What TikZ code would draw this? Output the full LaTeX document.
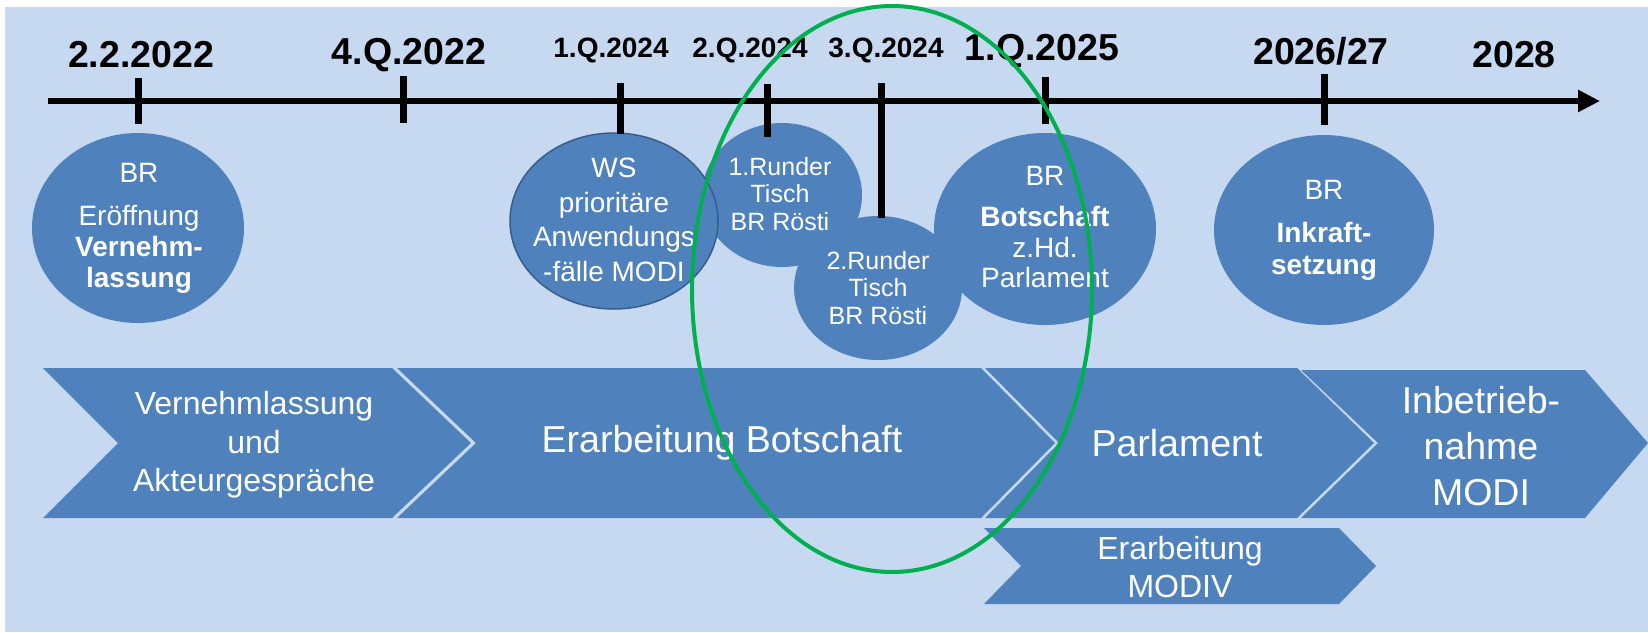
\documentclass[tikz,border=0pt]{standalone}
\usepackage{fontspec}
\setmainfont{Liberation Sans}
\usetikzlibrary{arrows.meta,shapes.geometric}
\definecolor{bgblue}{HTML}{C6D9F1}
\definecolor{boxblue}{HTML}{4F81BD}
\definecolor{edgeblue}{HTML}{385D8A}
\definecolor{ringgreen}{HTML}{00B050}
\newcommand\fsz[2]{\fontsize{#1}{#2}\selectfont}

\begin{document}
\begin{tikzpicture}[x=1pt,y=-1pt,
  bubble/.style={ellipse, fill=boxblue, inner sep=0pt},
  bubtext/.style={text=white, align=center, inner sep=0pt},
  phase/.style={fill=boxblue},
  phasetext/.style={text=white, align=center, inner sep=0pt},
  datebig/.style={font=\fsz{37.5}{40}\bfseries, inner sep=0pt},
  datesmall/.style={font=\fsz{28}{30}\bfseries, inner sep=0pt},
  tickline/.style={line width=7pt},
]
\useasboundingbox (0,0) rectangle (1648,632);
\fill[white] (0,0) rectangle (1648,632);
\fill[bgblue] (5,7) rectangle (1648,632);

% phases
\fill[boxblue] (43,368) -- (392,368) -- (471,443) -- (392,518) -- (43,518) -- (118,443) -- cycle;
\fill[boxblue] (397,368) -- (981,368) -- (1055,443) -- (981,518) -- (397,518) -- (476,443) -- cycle;
\fill[boxblue] (985,368) -- (1297,368) -- (1374,443) -- (1297,518) -- (985,518) -- (1059,443) -- cycle;
\fill[boxblue] (1301,370) -- (1585,370) -- (1648,443) -- (1585,518) -- (1301,518) -- (1378,443) -- cycle;
\fill[boxblue] (984,528) -- (1339,528) -- (1376,566) -- (1339,604) -- (984,604) -- (1021,566) -- cycle;

\node[phasetext, font=\fsz{32}{38.5}] (p1) at (254,445) {Vernehmlassung\\und\\Akteurgespräche};
\node[phasetext, font=\fsz{37.5}{40}] (p2) at (722,443) {Erarbeitung Botschaft};
\node[phasetext, font=\fsz{37.5}{40}] (p3) at (1177,443) {Parlament};
\node[phasetext, font=\fsz{37.5}{46}] (p4) at (1481,446) {Inbetrieb-\\nahme\\MODI};
\node[phasetext, font=\fsz{32}{38}] (p5) at (1180,567) {Erarbeitung\\MODIV};

% milestones
\node[bubble, minimum width=160, minimum height=144] (rt1) at (782,195) {};
\node[bubble, minimum width=168, minimum height=144] (rt2) at (878,288) {};
\node[bubble, draw=edgeblue, line width=1.5pt, minimum width=208, minimum height=176] (ws) at (614,221) {};
\node[bubble, minimum width=212, minimum height=190] (vl) at (138,228) {};
\node[bubble, minimum width=222, minimum height=192] (bo) at (1045,229) {};
\node[bubble, minimum width=220, minimum height=190] (ik) at (1324,230) {};

\node[bubtext, font=\fsz{28}{31}] (vlt) at (139,228) {BR\\[12pt]Eröffnung\\\textbf{Vernehm-}\\\textbf{lassung}};
\node[bubtext, font=\fsz{28}{34.5}] (wst) at (614,220) {WS\\prioritäre\\Anwendungs\\-fälle MODI};
\node[bubtext, font=\fsz{25}{27.5}] (rt1t) at (780,194) {1.Runder\\Tisch\\BR Rösti};
\node[bubtext, font=\fsz{25}{27.5}] (rt2t) at (878,288) {2.Runder\\Tisch\\BR Rösti};
\node[bubtext, font=\fsz{28}{30.5}] (bot) at (1045,227) {BR\\[11pt]\textbf{Botschaft}\\z.Hd.\\Parlament};
\node[bubtext, font=\fsz{28}{32}] (ikt) at (1324,230) {BR\\[11pt]\textbf{Inkraft-}\\\textbf{setzung}};

% time axis
\coordinate (ax0) at (48,101);
\coordinate (ax1) at (1600,101);
\draw[line width=6.5pt, -{Triangle[length=22pt,width=21pt]}] (ax0) -- (ax1);

\coordinate (k1) at (138,78);  \coordinate (k1e) at (138,124);
\coordinate (k2) at (403,76);  \coordinate (k2e) at (403,123);
\coordinate (k3) at (620,83);  \coordinate (k3e) at (620,134);
\coordinate (k4) at (767,84);  \coordinate (k4e) at (767,137);
\coordinate (k5) at (881,83);  \coordinate (k5e) at (881,218);
\coordinate (k6) at (1045,77); \coordinate (k6e) at (1045,124);
\coordinate (k7) at (1324,74); \coordinate (k7e) at (1324,125);
\draw[tickline] (k1) -- (k1e);
\draw[tickline] (k2) -- (k2e);
\draw[tickline] (k3) -- (k3e);
\draw[tickline] (k4) -- (k4e);
\draw[tickline] (k5) -- (k5e);
\draw[tickline] (k6) -- (k6e);
\draw[tickline] (k7) -- (k7e);

\node[datebig] (d1) at (141,55) {2.2.2022};
\node[datebig] (d2) at (409,55) {4.Q.2022};
\node[datesmall] (d3) at (611,50) {1.Q.2024};
\node[datesmall] (d4) at (750,50) {2.Q.2024};
\node[datesmall] (d5) at (886,50) {3.Q.2024};
\node[datebig] (d6) at (1042,51) {1.Q.2025};
\node[datebig] (d7) at (1321,51) {2026/27};
\node[datebig] (d8) at (1514,55) {2028};

% highlight ring
\node[draw=ringgreen, line width=4pt, ellipse, inner sep=0pt, minimum width=400, minimum height=566] (ring) at (892,289) {};
\end{tikzpicture}
\end{document}
